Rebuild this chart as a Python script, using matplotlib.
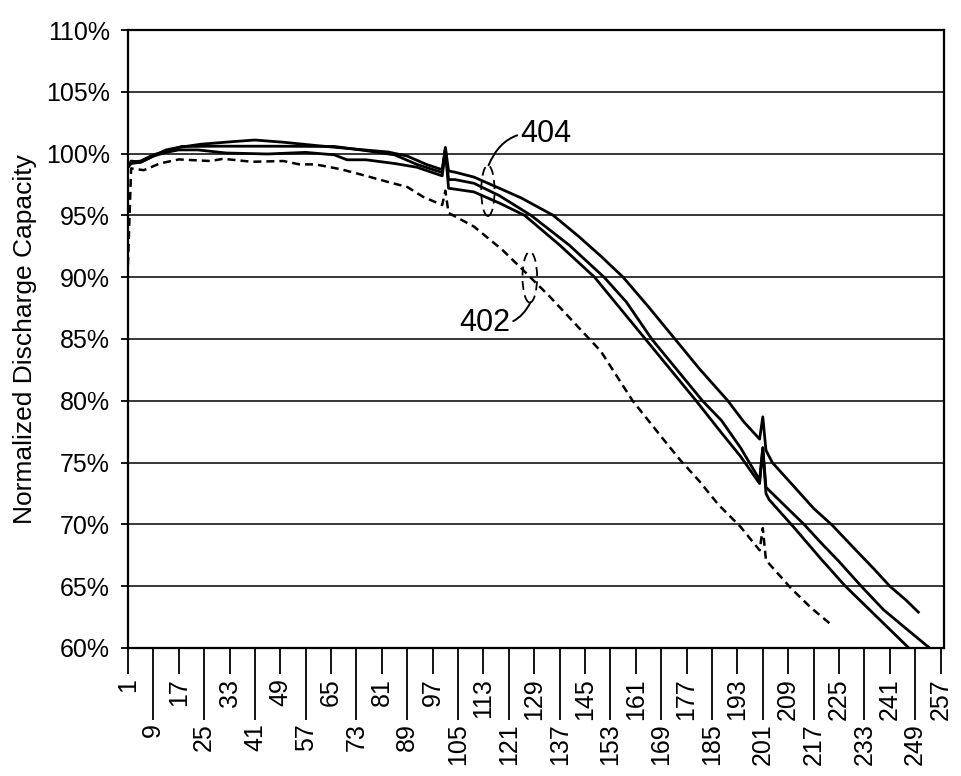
import matplotlib
matplotlib.use("Agg")
import matplotlib.pyplot as plt
from matplotlib.patches import Ellipse

plt.rcParams['font.family'] = ['Liberation Sans', 'DejaVu Sans']

# cycle number vs normalized discharge capacity (%)
cyc_a = [1, 2, 5, 9, 13, 17, 24, 34, 41, 50, 60, 71, 83, 89, 95, 100, 101, 102, 104, 110,
         118, 125, 135, 143, 150, 157, 165, 173, 181, 190, 195, 200, 201, 202, 204, 210,
         217, 223, 230, 236, 241, 246, 250]
val_a = [98.9, 99.4, 99.3, 99.8, 100.3, 100.5, 100.76, 100.97, 101.1, 100.92, 100.66, 100.4,
         100.13, 99.8, 99.13, 98.7, 100.5, 98.6, 98.5, 98.1,
         97.2, 96.4, 95.0, 93.3, 91.7, 90.0, 87.6, 85.1, 82.6, 80.0, 78.3, 76.9, 78.7, 76.0,
         75.0, 73.3, 71.3, 69.9, 68.0, 66.4, 65.0, 63.9, 62.9]

cyc_b = [1, 2, 5, 9, 13, 18, 30, 45, 66, 76, 85, 92, 100, 101, 102, 104, 110, 118, 128, 140,
         151, 158, 166, 174, 182, 188, 194, 200, 201, 202, 206, 214, 219, 225, 232, 239, 246, 254]
val_b = [98.9, 99.3, 99.4, 99.9, 100.2, 100.58, 100.6, 100.6, 100.58, 100.24, 99.9, 99.13,
         98.47, 100.4, 97.9, 97.9, 97.6, 96.6, 95.0, 92.6,
         90.0, 88.0, 85.0, 82.5, 80.0, 78.4, 76.2, 73.6, 76.2, 73.0, 72.0, 70.0, 68.6, 67.0,
         65.0, 63.1, 61.6, 59.9]

cyc_c = [1, 2, 5, 9, 13, 17, 23, 32, 45, 57, 66, 70, 76, 85, 92, 100, 101, 102, 110, 118,
         126, 137, 148, 156, 164, 172, 180, 188, 194, 200, 201, 202, 203, 211, 219, 227, 237, 247]
val_c = [98.9, 99.2, 99.3, 99.8, 100.1, 100.3, 100.3, 100.05, 99.97, 100.1, 99.9, 99.5, 99.5,
         99.2, 98.9, 98.2, 100.3, 97.2, 96.9, 96.0,
         95.0, 92.6, 90.0, 87.5, 85.0, 82.5, 80.0, 77.4, 75.5, 73.3, 76.2, 72.5, 72.0, 69.7,
         67.3, 65.0, 62.5, 60.0]

cyc_d = [1, 2, 6, 11, 17, 27, 31, 40, 50, 55, 60, 68, 76, 83, 89, 94, 100, 101, 102, 110,
         119, 125, 134, 142, 150, 160, 169, 175, 181, 187, 194, 200, 201, 202, 210, 216, 222]
val_d = [91.0, 98.8, 98.66, 99.2, 99.53, 99.4, 99.58, 99.34, 99.4, 99.13, 99.13, 98.74, 98.2,
         97.7, 97.3, 96.5, 95.84, 97.0, 95.2, 94.1,
         92.2, 90.7, 88.4, 86.2, 84.0, 80.0, 77.1, 75.2, 73.5, 71.6, 69.8, 67.9, 69.7, 67.1,
         64.8, 63.3, 62.0]

x_major = list(range(1, 258, 16))   # 1, 17, 33 ... labels close to the axis
x_minor = list(range(9, 258, 16))   # 9, 25, 41 ... labels on long ticks
y_ticks = [60, 65, 70, 75, 80, 85, 90, 95, 100, 105, 110]

fig = plt.figure(figsize=(9.62, 7.76), dpi=100)
ax = fig.add_axes([0.133, 0.165, 0.848, 0.7963])

for y in y_ticks:
    ax.axhline(y, color='black', lw=1.1, zorder=1)

ax.plot(cyc_a, val_a, color='black', lw=2.0, zorder=3)
ax.plot(cyc_b, val_b, color='black', lw=2.0, zorder=3)
ax.plot(cyc_c, val_c, color='black', lw=2.0, zorder=3)
ln, = ax.plot(cyc_d, val_d, color='black', lw=1.8, zorder=3)
ln.set_dashes((3.2, 2.0))

ax.set_xlim(1, 258)
ax.set_ylim(60, 110)

ax.set_yticks(y_ticks)
ax.set_yticklabels(['%d%%' % v for v in y_ticks])
ax.set_xticks(x_major)
ax.set_xticklabels([str(v) for v in x_major], rotation=90, va='top')
ax.set_xticks(x_minor, minor=True)
ax.set_xticklabels([str(v) for v in x_minor], minor=True, rotation=90, va='top')

ax.tick_params(axis='y', direction='out', length=5, width=1.3, pad=8, labelsize=18)
ax.tick_params(axis='x', which='major', direction='out', length=19, width=1.3, pad=3, labelsize=18)
ax.tick_params(axis='x', which='minor', direction='out', length=52, width=1.3, pad=2, labelsize=18)

for s in ax.spines.values():
    s.set_linewidth(1.6)
    s.set_color('black')

ax.set_ylabel('Normalized Discharge Capacity', fontsize=19)
ax.yaxis.set_label_coords(-0.112, 0.5)

# reference numerals
ax.add_patch(Ellipse((114.4, 97.0), 4.2, 4.1, fill=False, ls=(0, (5, 3)), lw=1.3, zorder=4))
ax.add_patch(Ellipse((127.6, 90.0), 4.6, 4.1, fill=False, ls=(0, (5, 3)), lw=1.3, zorder=4))
ax.annotate('404', xy=(114.6, 99.05), xytext=(124.5, 101.6), fontsize=22,
            ha='left', va='center',
            arrowprops=dict(arrowstyle='-', color='black', lw=1.4,
                            connectionstyle='arc3,rad=0.4', shrinkA=0, shrinkB=0))
ax.annotate('402', xy=(127.8, 87.95), xytext=(121.5, 86.3), fontsize=22,
            ha='right', va='center',
            arrowprops=dict(arrowstyle='-', color='black', lw=1.4,
                            connectionstyle='arc3,rad=0.4', shrinkA=0, shrinkB=0))

fig.savefig('out.png', dpi=100)
